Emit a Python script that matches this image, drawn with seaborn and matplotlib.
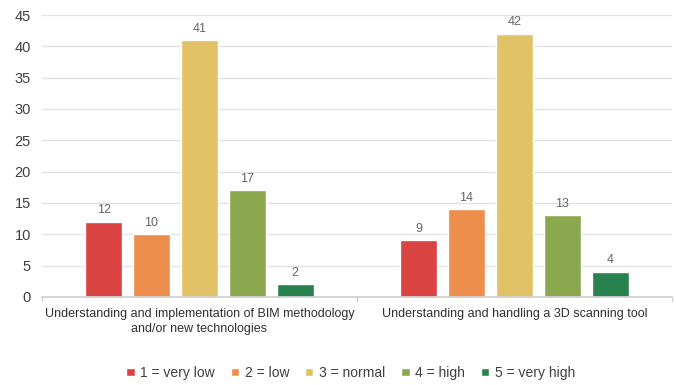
import matplotlib
matplotlib.use("Agg")
import matplotlib.pyplot as plt
import seaborn as sns
import pandas as pd

categories = [
    "Understanding and implementation of BIM methodology\nand/or new technologies",
    "Understanding and handling a 3D scanning tool",
]
levels = ["1 = very low", "2 = low", "3 = normal", "4 = high", "5 = very high"]
bim_counts = [12, 10, 41, 17, 2]
scan_counts = [9, 14, 42, 13, 4]
colors = ["#D94341", "#EE8E4C", "#E2C266", "#8BA84F", "#28824F"]

rows = []
for cat, vals in zip(categories, [bim_counts, scan_counts]):
    for lev, v in zip(levels, vals):
        rows.append({"category": cat, "level": lev, "count": v})
df = pd.DataFrame(rows)

sns.set_theme(style="white")
plt.rcParams["font.family"] = ["Liberation Sans", "DejaVu Sans"]

fig = plt.figure(figsize=(6.76, 3.85), dpi=100)
ax = fig.add_axes([0.062, 0.229, 0.932, 0.732])

sns.barplot(data=df, x="category", y="count", hue="level", hue_order=levels,
            palette=colors, width=0.76, gap=0.22, saturation=1, ax=ax,
            legend=True)

ax.set_ylim(0, 45)
ax.set_xlim(-0.5, 1.5)
ax.set_yticks(range(0, 46, 5))
ax.yaxis.grid(True, color="#E3E3E3", linewidth=1)
ax.set_axisbelow(True)
for s in ["top", "right", "left"]:
    ax.spines[s].set_visible(False)
ax.spines["bottom"].set_color("#D0D0D0")
ax.set_xlabel("")
ax.set_ylabel("")
ax.tick_params(axis="y", length=0, labelsize=10.5, labelcolor="#404040", pad=8)
ax.tick_params(axis="x", length=0, labelsize=9, labelcolor="#303030", pad=8)
for lbl in ax.get_xticklabels():
    lbl.set_linespacing(1.35)
# category separators on the baseline
for xb in [-0.5, 0.5, 1.5]:
    ax.plot([xb, xb], [0, -0.7], color="#D0D0D0", lw=1, clip_on=False)

for cont in ax.containers:
    ax.bar_label(cont, padding=4, fontsize=9, color="#666666")

handles, labels = ax.get_legend_handles_labels()
ax.legend(handles, labels, loc="center", bbox_to_anchor=(0.49, -0.27), ncol=5,
          frameon=False, fontsize=10, handlelength=0.6, handleheight=0.6,
          handletextpad=0.4, columnspacing=1.15, labelcolor="#404040")

fig.savefig("out.png", dpi=100)
